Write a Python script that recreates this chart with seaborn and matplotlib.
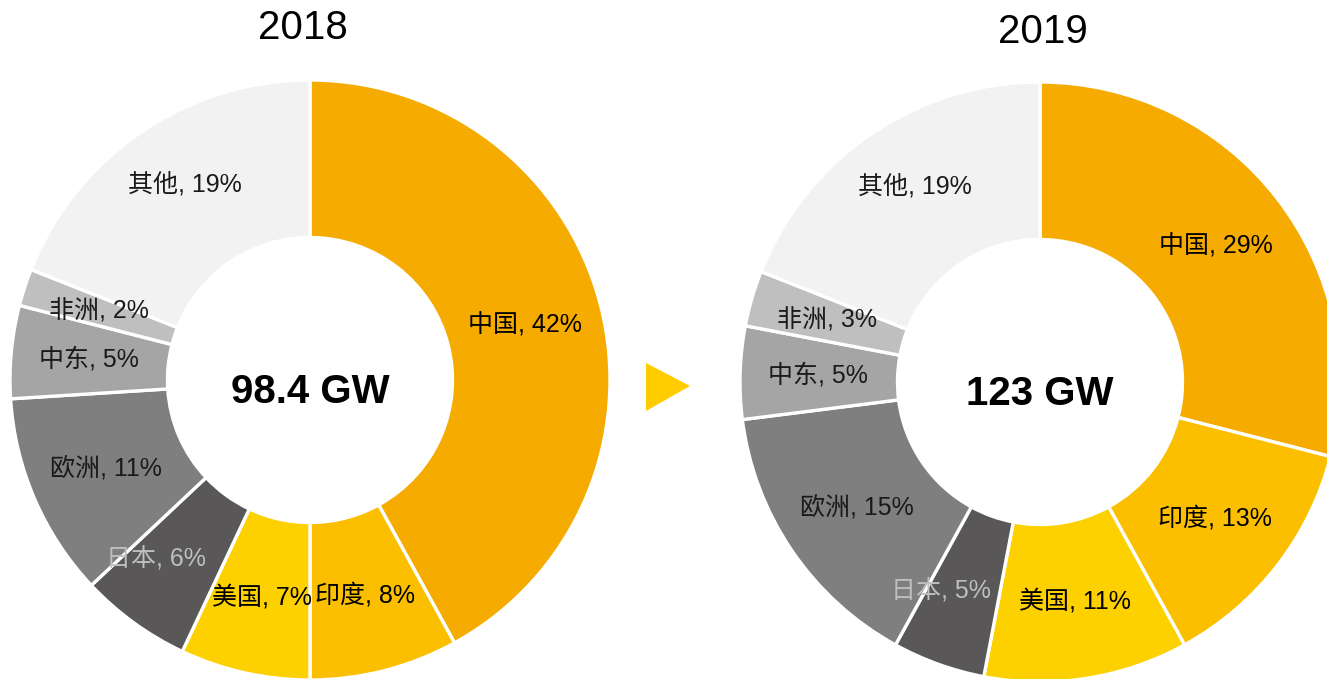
import numpy as np
import pandas as pd
import seaborn as sns
import matplotlib
matplotlib.use("Agg")
import matplotlib.pyplot as plt
from matplotlib.patches import Polygon

# ---- data ----
regions = ["中国", "印度", "美国", "日本", "欧洲", "中东", "非洲", "其他"]
share_2018 = [42, 8, 7, 6, 11, 5, 2, 19]
share_2019 = [29, 13, 11, 5, 15, 5, 3, 19]
years = ["2018", "2019"]
totals = ["98.4 GW", "123 GW"]

# ---- style ----
sns.set_theme(style="white")
plt.rcParams["font.family"] = ["Liberation Sans", "Noto Sans CJK SC", "DejaVu Sans"]

colors = ["#F5AB00", "#FBBF00", "#FDD000", "#595757", "#7F7F7F",
          "#A5A5A5", "#BFBFBF", "#F2F2F2"]
label_colors = ["#000000", "#000000", "#000000", "#BFBFBF", "#1a1a1a",
                "#1a1a1a", "#1a1a1a", "#1a1a1a"]
label_nudge = {"日本": (-0.08, 0.0), "其他": (0.0, 0.04)}

W, H = 1327, 679
fig = plt.figure(figsize=(W / 100, H / 100), dpi=100)
fig.patch.set_facecolor("white")

# donut boxes in pixels: (center_x, center_y_from_top, radius)
boxes = [(310, 380, 300), (1040, 382, 300)]
title_pos = [(303, 28), (1043, 32)]

for (cx, cy, r), vals, yr, tot, tpos in zip(boxes, [share_2018, share_2019],
                                            years, totals, title_pos):
    ax = fig.add_axes([(cx - r) / W, (H - cy - r) / H, 2 * r / W, 2 * r / H])
    wedges, _ = ax.pie(vals, colors=colors, startangle=90, counterclock=False,
                       radius=1.0,
                       wedgeprops=dict(width=0.525, edgecolor="white", linewidth=2.4))
    for w, name, v, lc in zip(wedges, regions, vals, label_colors):
        mid = np.deg2rad((w.theta1 + w.theta2) / 2)
        dx, dy = label_nudge.get(name, (0.0, 0.0))
        x = 0.74 * np.cos(mid) + dx
        y = 0.74 * np.sin(mid) + dy
        ax.text(x, y, f"{name}, {v}%", ha="center", va="center",
                fontsize=18, color=lc)
    ax.text(0, -0.04, tot, ha="center", va="center", fontsize=29,
            fontweight="bold", color="black")
    ax.set_xlim(-1, 1)
    ax.set_ylim(-1, 1)
    ax.set_aspect("equal", adjustable="box")
    ax.axis("off")
    fig.text(tpos[0] / W, 1 - tpos[1] / H, yr, ha="center", va="center",
             fontsize=29, color="black")

# arrow between the two donuts
fig.patches.append(Polygon([[646 / W, 1 - 363 / H], [646 / W, 1 - 411 / H],
                            [690 / W, 1 - 386 / H]], closed=True,
                           transform=fig.transFigure, facecolor="#FFCC00",
                           edgecolor="none"))

fig.savefig("out.png", dpi=100, facecolor="white")
